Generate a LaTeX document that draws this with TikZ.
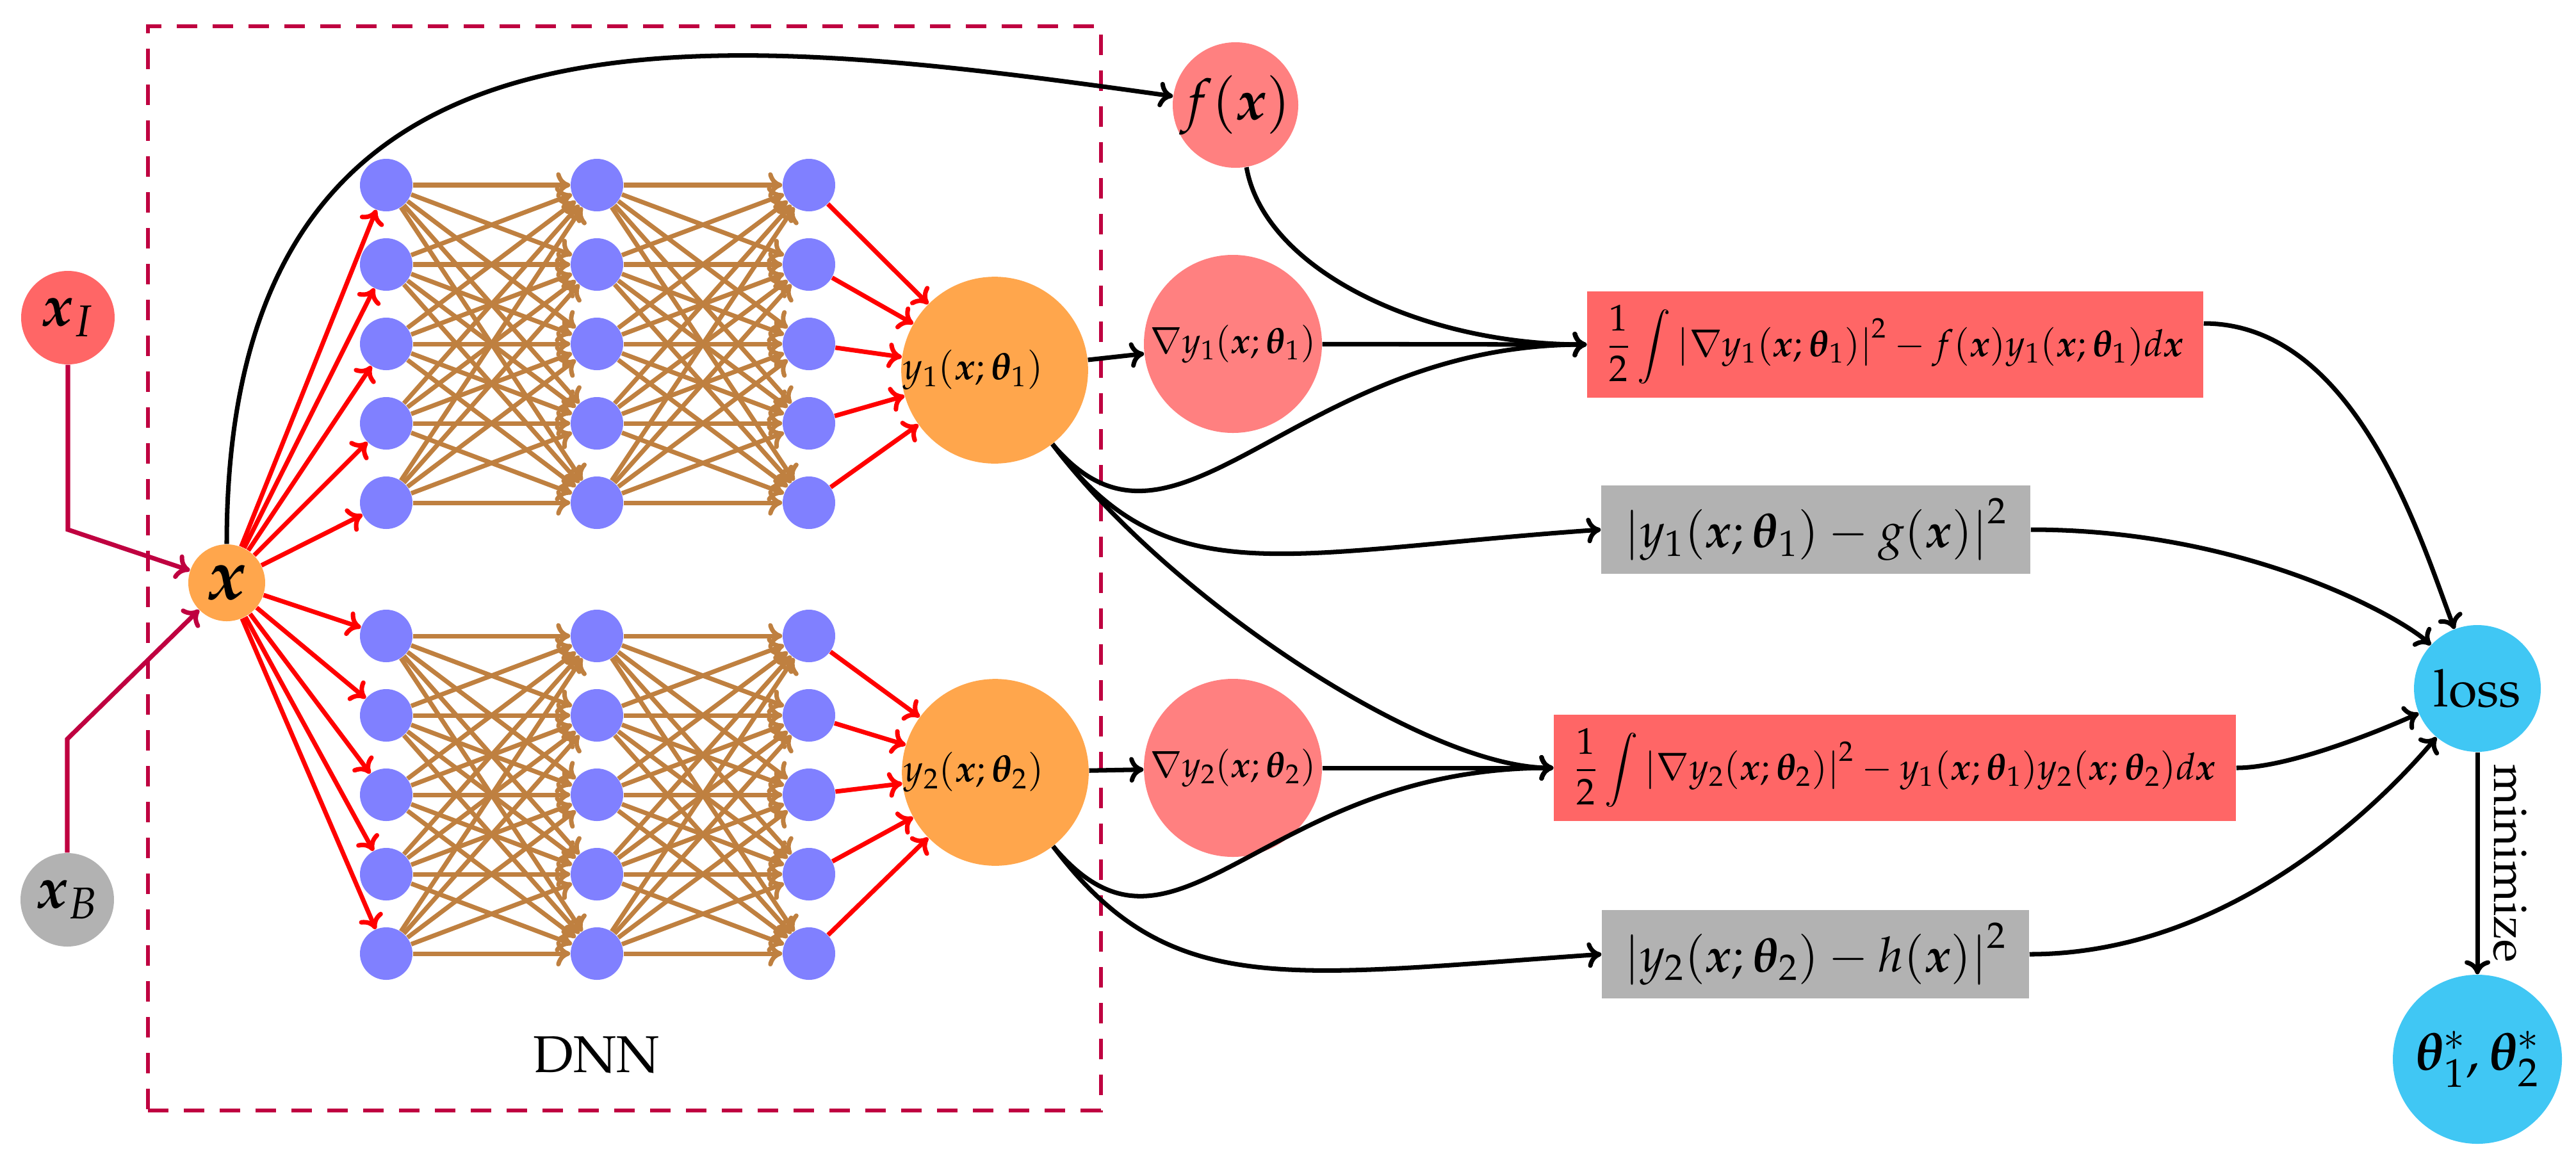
\documentclass[tikz,border=0pt]{standalone}
\usepackage[T1]{fontenc}
\usepackage{amsmath}
\usepackage{mathpazo}
\usepackage{bm}
\usetikzlibrary{arrows.meta}
\definecolor{lossblue}{HTML}{40C7F4}
\newcommand{\setsize}[1]{\fontsize{#1}{#1}\selectfont}
\begin{document}
\begin{tikzpicture}[
        >={Computer Modern Rightarrow[length=.22cm,width=.4cm]},
        base/.style={circle,inner sep=0pt},
        hidden/.style={base,fill=blue!50,minimum size=.82cm},
        netout/.style={base,fill=orange!70,minimum size=2.9cm,text width=2.86cm,align=left,font=\setsize{16.8}},
        gradnode/.style={base,fill=red!50,minimum size=2.78cm,font=\setsize{16}},
        termbox/.style={rectangle,inner sep=0pt,minimum height=1.66cm,fill=red!60,font=\setsize{16.5}},
        bcbox/.style={rectangle,inner sep=0pt,minimum height=1.38cm,fill=black!30,font=\setsize{21.5}},
        link/.style={->,line width=2pt},
        inlink/.style={link,red},
        netlink/.style={link,brown},
        feedlink/.style={link,purple}
    ]
    \useasboundingbox (0,0) rectangle (40.22,-18.15);
    \node[draw=purple,line width=1.7pt,dash pattern=on .32cm off .24cm,minimum width=14.88cm,minimum height=16.93cm,inner sep=0pt] (dnnframe) at (9.75,-8.875) {};
    \node[font=\setsize{23},inner sep=0pt] (dnn) at (9.31,-16.47) {DNN};
    % inputs
    \node[base,fill=red!60,minimum size=1.46cm,font=\setsize{26}] (xI) at (1.06,-4.96) {$\bm{x}_I$};
    \node[base,fill=black!30,minimum size=1.46cm,font=\setsize{26}] (xB) at (1.05,-14.05) {$\bm{x}_B$};
    \node[base,fill=orange!70,minimum size=1.2cm,font=\setsize{32}] (x) at (3.54,-9.10) {$\bm{x}$};
    \coordinate (xIbend) at (1.06,-8.27);
    \coordinate (xBbend) at (1.05,-11.54);
    \draw[feedlink] (xI) -- (xIbend) -- (x);
    \draw[feedlink] (xB) -- (xBbend) -- (x);
    % networks
    \foreach \g/\top in {a/-2.89,b/-9.93} {
        \foreach \c/\xx in {1/6.03,2/9.32,3/12.63} {
            \foreach \r in {1,...,5} {
                \node[hidden] (\g\c\r) at (\xx,{\top-(\r-1)*1.24}) {};
            }
        }
    }
    \node[netout] (y1) at (15.53,-5.78) {$y_1(\bm{x};\bm{\theta}_1)$};
    \node[netout] (y2) at (15.54,-12.06) {$y_2(\bm{x};\bm{\theta}_2)$};
    \foreach \g/\o in {a/y1,b/y2} {
        \foreach \i in {1,...,5} {
            \draw[inlink] (x) -- (\g1\i);
            \draw[inlink] (\g3\i) -- (\o);
            \foreach \j in {1,...,5} {
                \draw[netlink] (\g1\i) -- (\g2\j);
                \draw[netlink] (\g2\i) -- (\g3\j);
            }
        }
    }
    % right side
    \node[base,fill=red!50,minimum size=1.96cm,font=\setsize{25}] (f) at (19.29,-1.64) {$f(\bm{x})$};
    \node[gradnode] (g1) at (19.25,-5.37) {$\nabla y_1(\bm{x};\bm{\theta}_1)$};
    \node[gradnode] (g2) at (19.25,-11.99) {$\nabla y_2(\bm{x};\bm{\theta}_2)$};
    \node[termbox,minimum width=9.62cm] (pde1) at (29.59,-5.38) {$\displaystyle\frac{1}{2}\int\left|\nabla y_1(\bm{x};\bm{\theta}_1)\right|^2-f(\bm{x})y_1(\bm{x};\bm{\theta}_1)d\bm{x}$};
    \node[bcbox,minimum width=6.70cm] (bc1) at (28.35,-8.27) {$\left|y_1(\bm{x};\bm{\theta}_1)-g(\bm{x})\right|^2$};
    \node[termbox,minimum width=10.65cm] (pde2) at (29.585,-11.99) {$\displaystyle\frac{1}{2}\int\left|\nabla y_2(\bm{x};\bm{\theta}_2)\right|^2-y_1(\bm{x};\bm{\theta}_1)y_2(\bm{x};\bm{\theta}_2)d\bm{x}$};
    \node[bcbox,minimum width=6.67cm] (bc2) at (28.345,-14.90) {$\left|y_2(\bm{x};\bm{\theta}_2)-h(\bm{x})\right|^2$};
    \node[base,fill=lossblue,minimum size=1.98cm,font=\setsize{23}] (loss) at (38.68,-10.75) {loss};
    \node[base,fill=lossblue,minimum size=2.64cm,font=\setsize{23.5}] (opt) at (38.68,-16.54) {$\bm{\theta}_1^*,\bm{\theta}_2^*$};
    \draw[link] (x) .. controls +(90:9.5) and +(172:8.5) .. (f);
    \draw[link] (f) .. controls +(-80:2.6) and +(180:2.6) .. (pde1.west);
    \draw[link] (y1) -- (g1);
    \draw[link] (g1) -- (pde1.west);
    \draw[link] (y1.-52) .. controls +(-50:3) and +(180:4.6) .. (pde1.west);
    \draw[link] (y1.-52) .. controls +(-53:3) and +(184:5) .. (bc1.west);
    \draw[link] (y1.-52) .. controls +(-53:3) and +(180:2) .. (pde2.west);
    \draw[link] (y2) -- (g2);
    \draw[link] (g2) -- (pde2.west);
    \draw[link] (y2.-52) .. controls +(-50:3) and +(180:4.6) .. (pde2.west);
    \draw[link] (y2.-52) .. controls +(-53:3) and +(184:5) .. (bc2.west);
    \draw[link] ([yshift=.33cm]pde1.east) .. controls +(0:2.4) and +(111:2.4) .. (loss);
    \draw[link] (bc1.east) .. controls +(0:3.4) and +(137:1.6) .. (loss);
    \draw[link] (pde2.east) .. controls +(0:1) and +(203:1) .. (loss);
    \draw[link] (bc2.east) .. controls +(0:3.2) and +(230:2.2) .. (loss);
    \draw[link] (loss) -- node[midway,sloped,above=5pt,font=\setsize{21},inner sep=1pt] {minimize} (opt);
\end{tikzpicture}
\end{document}
